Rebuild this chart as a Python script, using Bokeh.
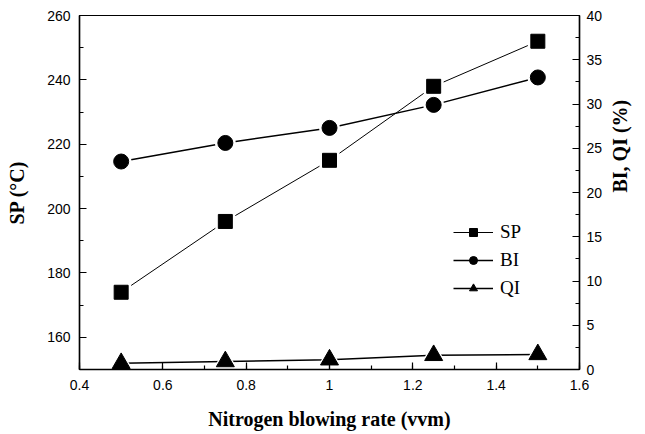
import math
from bokeh.plotting import figure
from bokeh.models import (Range1d, LinearAxis, SingleIntervalTicker, Legend, LegendItem)
from bokeh.embed import file_html
from bokeh.resources import INLINE

# data
rate = [0.5, 0.75, 1.0, 1.25, 1.5]
sp = [174, 196, 215, 238, 252]
bi = [23.5, 25.6, 27.3, 29.9, 33.0]
qi = [0.7, 0.9, 1.1, 1.6, 1.7]

x_ticks_interval = 0.2
sp_range = (150, 260)
pct_range = (0, 40)

SANS = "Liberation Sans"
SERIF = "Liberation Serif"

W, H = 645, 434
BL, BR, BT, BB = 79, 65, 15, 65

p = figure(width=W, height=H, output_backend="svg", toolbar_location=None,
           x_range=Range1d(0.4, 1.6), y_range=Range1d(*sp_range),
           min_border_left=BL, min_border_right=BR, min_border_top=BT, min_border_bottom=BB)
p.extra_y_ranges = {"pct": Range1d(*pct_range)}
p.grid.visible = False
p.outline_line_color = "black"
p.outline_line_width = 1.2
p.background_fill_color = "white"
p.border_fill_color = "white"

def style_axis(ax, label, standoff_lbl, standoff_ax):
    ax.axis_label = label
    ax.axis_label_text_font = SERIF
    ax.axis_label_text_font_style = "bold"
    ax.axis_label_text_font_size = "20px"
    ax.axis_label_text_color = "black"
    ax.axis_label_standoff = standoff_ax
    ax.major_label_text_font = SANS
    ax.major_label_text_font_size = "14px"
    ax.major_label_text_color = "black"
    ax.major_label_standoff = standoff_lbl
    ax.axis_line_color = "black"
    ax.axis_line_width = 1.5
    ax.major_tick_in = 7
    ax.major_tick_out = 0
    ax.minor_tick_in = 4
    ax.minor_tick_out = 0
    ax.major_tick_line_color = "black"
    ax.minor_tick_line_color = "black"
    ax.major_tick_line_width = 1.2
    ax.minor_tick_line_width = 1.2

xa = p.xaxis[0]
xa.ticker = SingleIntervalTicker(interval=x_ticks_interval, num_minor_ticks=2)
style_axis(xa, "Nitrogen blowing rate (vvm)", 10, 15)

ya = p.yaxis[0]
ya.ticker = SingleIntervalTicker(interval=20, num_minor_ticks=2)
style_axis(ya, "SP (°C)", 9, 16)

ra = LinearAxis(y_range_name="pct")
ra.ticker = SingleIntervalTicker(interval=5, num_minor_ticks=2)
style_axis(ra, "BI, QI (%)", 7, 15)
if "axis_label_orientation" in ra.properties():
    ra.axis_label_orientation = math.pi / 2
p.add_layout(ra, "right")

# lines
l_sp = p.line(rate, sp, line_color="black", line_width=1)
l_bi = p.line(rate, bi, line_color="black", line_width=1.5, y_range_name="pct")
l_qi = p.line(rate, qi, line_color="black", line_width=1.5, y_range_name="pct")

# white halos to create gaps between markers and lines
p.scatter(rate, sp, marker="square", size=20, fill_color="white", line_color=None)
p.scatter(rate, bi, marker="circle", size=21, fill_color="white", line_color=None, y_range_name="pct")
p.scatter(rate, qi, marker="triangle", size=24, fill_color="white", line_color=None, y_range_name="pct")

m_sp = p.scatter(rate, sp, marker="square", size=14, fill_color="black", line_color="black")
m_bi = p.scatter(rate, bi, marker="circle", size=15, fill_color="black", line_color="black", y_range_name="pct")
m_qi = p.scatter(rate, qi, marker="triangle", size=18, fill_color="black", line_color="black", y_range_name="pct")

legend = Legend(items=[
    LegendItem(label="SP", renderers=[l_sp, m_sp]),
    LegendItem(label="BI", renderers=[l_bi, m_bi]),
    LegendItem(label="QI", renderers=[l_qi, m_qi]),
], location=(374, 70))
legend.border_line_color = None
legend.background_fill_alpha = 0
legend.padding = 0
legend.margin = 0
legend.spacing = 6
legend.glyph_width = 40
legend.glyph_height = 20
legend.label_standoff = 7
legend.label_text_font = SERIF
legend.label_text_font_size = "19px"
legend.label_text_color = "black"
p.add_layout(legend, "center")

open("out.html", "w").write(file_html(p, INLINE))
